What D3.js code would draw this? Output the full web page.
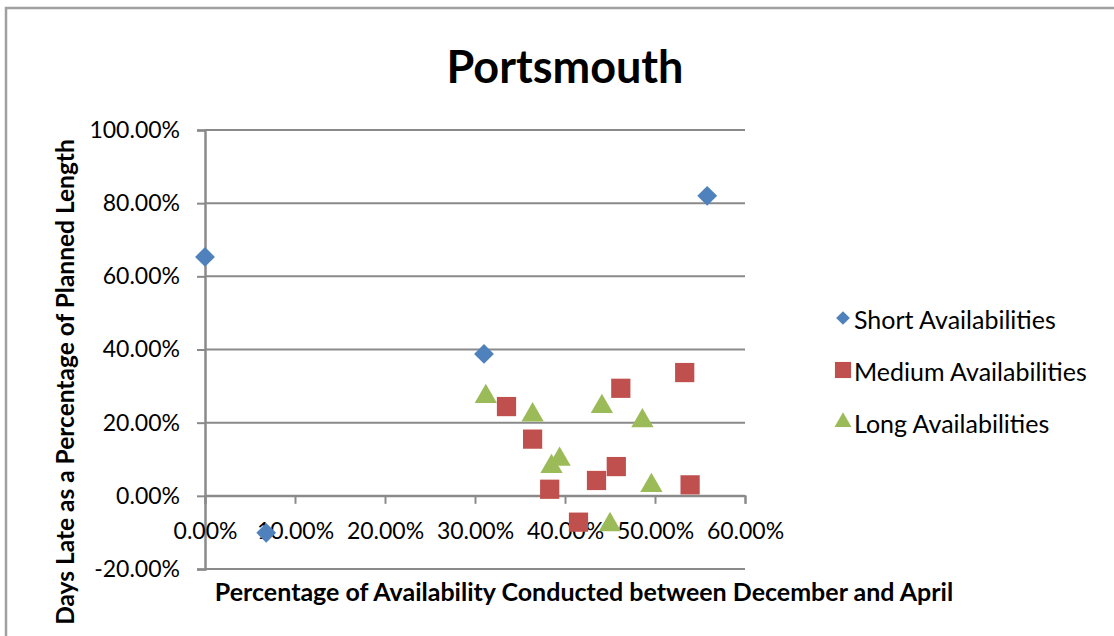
<!DOCTYPE html>
<html>
<head>
<meta charset="utf-8">
<script src="https://cdn.jsdelivr.net/npm/d3@7"></script>
<style>
  html, body { margin: 0; padding: 0; background: #fff; }
  svg { display: block; }
  text { font-family: Lato, "Open Sans", "DejaVu Sans", sans-serif; fill: #000; }
</style>
</head>
<body>
<svg id="chart" width="1114" height="636"></svg>
<script>
// Series values: x = share of availability conducted Dec–Apr (%), y = days late as % of planned length
const shortX  = [0.0, 6.8, 31.0, 55.8];
const shortY  = [65.3, -10.1, 38.8, 82.0];
const mediumX = [33.5, 36.4, 46.2, 53.3, 45.7, 43.5, 38.3, 53.9, 41.5];
const mediumY = [24.4, 15.5, 29.4, 33.7, 8.0, 4.2, 1.8, 3.0, -7.2];
const longX   = [31.2, 36.4, 44.1, 48.6, 39.4, 38.5, 49.6, 45.0];
const longY   = [27.1, 22.1, 24.4, 20.5, 10.0, 8.0, 2.8, -7.9];

const seriesNames = ["Short Availabilities", "Medium Availabilities", "Long Availabilities"];
const xTicks = [0, 10, 20, 30, 40, 50, 60];
const yTicks = [-20, 0, 20, 40, 60, 80, 100];

const titleText = "Portsmouth";
const xTitle = "Percentage of Availability Conducted between December and April";
const yTitle = "Days Late as a Percentage of Planned Length";

const svg = d3.select("#chart");
const W = 1114, H = 636;

const plot = { left: 205, right: 745, top: 130, bottom: 569 };
const x = d3.scaleLinear().domain([0, 60]).range([plot.left, plot.right]);
const y = d3.scaleLinear().domain([-20, 100]).range([plot.bottom, plot.top]);

const gridColor = "#8a8a8a";
const fmt = d => d.toFixed(2) + "%";

// outer chart frame
svg.append("rect")
  .attr("x", 6).attr("y", 8)
  .attr("width", W + 20).attr("height", H + 20)
  .attr("fill", "none").attr("stroke", "#a0a0a0").attr("stroke-width", 2.5);

// title
svg.append("text")
  .attr("x", 565).attr("y", 83)
  .attr("text-anchor", "middle")
  .attr("font-size", 45).attr("font-weight", "bold")
  .text(titleText);

// horizontal gridlines
svg.append("g").selectAll("line")
  .data(yTicks)
  .join("line")
  .attr("x1", plot.left).attr("x2", plot.right)
  .attr("y1", d => y(d)).attr("y2", d => y(d))
  .attr("stroke", gridColor).attr("stroke-width", 2);

// y axis (ticks outside, labels at left)
const yAxis = svg.append("g")
  .attr("transform", `translate(${plot.left},0)`)
  .call(d3.axisLeft(y).tickValues(yTicks).tickFormat(fmt).tickSize(8).tickPadding(17));
yAxis.select(".domain").attr("stroke", gridColor).attr("stroke-width", 2.5);
yAxis.selectAll(".tick line").attr("stroke", gridColor).attr("stroke-width", 2);
yAxis.selectAll(".tick text")
  .attr("font-family", "Lato, 'Open Sans', sans-serif")
  .attr("font-size", 23).attr("fill", "#000");

// x axis crossing at y = 0
const xAxis = svg.append("g")
  .attr("transform", `translate(0,${y(0)})`)
  .call(d3.axisBottom(x).tickValues(xTicks).tickFormat(fmt).tickSize(8).tickPadding(19));
xAxis.select(".domain").attr("stroke", gridColor).attr("stroke-width", 2);
xAxis.selectAll(".tick line").attr("stroke", gridColor).attr("stroke-width", 2);
xAxis.selectAll(".tick text")
  .attr("font-family", "Lato, 'Open Sans', sans-serif")
  .attr("font-size", 23).attr("fill", "#000");

// axis titles
svg.append("text")
  .attr("x", 584).attr("y", 601)
  .attr("text-anchor", "middle")
  .attr("font-size", 25).attr("font-weight", "bold")
  .text(xTitle);

svg.append("text")
  .attr("transform", `translate(74,382) rotate(-90)`)
  .attr("text-anchor", "middle")
  .attr("font-size", 24.5).attr("font-weight", "bold")
  .text(yTitle);

// markers
const colors = ["#4F81BD", "#C0504D", "#9BBB59"];
const shapes = [
  d3.symbol().type(d3.symbolDiamond2).size(250),
  d3.symbol().type(d3.symbolSquare).size(370),
  d3.symbol().type(d3.symbolTriangle).size(215)
];
const series = [
  d3.zip(shortX, shortY),
  d3.zip(mediumX, mediumY),
  d3.zip(longX, longY)
];

series.forEach((pts, i) => {
  svg.append("g").selectAll("path")
    .data(pts)
    .join("path")
    .attr("transform", d => `translate(${x(d[0])},${y(d[1])})`)
    .attr("d", shapes[i]())
    .attr("fill", colors[i]);
});

// legend
const legend = svg.append("g");
const legendY = [320, 372, 424];
const legendShapes = [
  d3.symbol().type(d3.symbolDiamond2).size(120),
  d3.symbol().type(d3.symbolSquare).size(260),
  d3.symbol().type(d3.symbolTriangle).size(125)
];
seriesNames.forEach((name, i) => {
  legend.append("path")
    .attr("transform", `translate(843,${legendY[i] - 2})`)
    .attr("d", legendShapes[i]())
    .attr("fill", colors[i]);
  legend.append("text")
    .attr("x", 854).attr("y", legendY[i])
    .attr("dy", "0.35em")
    .attr("font-size", 25)
    .text(name);
});
</script>
</body>
</html>
